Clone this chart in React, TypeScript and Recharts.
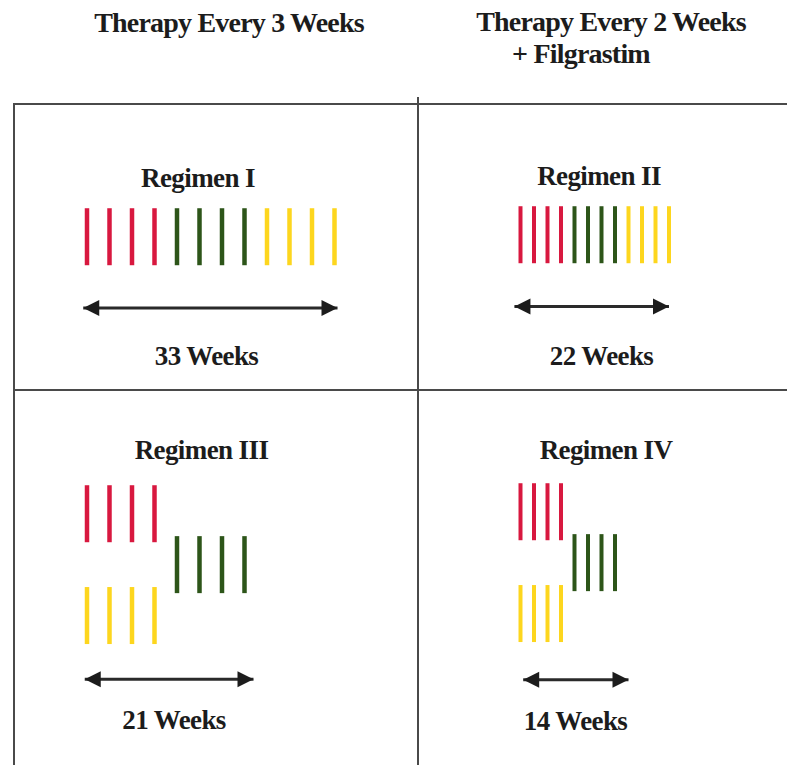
import React from 'react'
import { ScatterChart, Scatter, XAxis, YAxis } from 'recharts'

// doses per regimen: week of each dose, lane 0 = top row, 1 = middle, 2 = bottom
const regimen1Red = [0, 3, 6, 9]
const regimen1Green = [12, 15, 18, 21]
const regimen1Yellow = [24, 27, 30, 33]

const regimen2Red = [0, 2, 4, 6]
const regimen2Green = [8, 10, 12, 14]
const regimen2Yellow = [16, 18, 20, 22]

const regimen3Red = [0, 3, 6, 9]
const regimen3Green = [12, 15, 18, 21]
const regimen3Yellow = [0, 3, 6, 9]

const regimen4Red = [0, 2, 4, 6]
const regimen4Green = [8, 10, 12, 14]
const regimen4Yellow = [0, 2, 4, 6]

// arrow span in weeks [start, end] and lane it sits on
const arrowSpans = [
  [-0.5, 33.4],
  [-0.9, 22.0],
  [-0.3, 22.2],
  [0.4, 16.0],
]
const arrowLanes = [1.4, 1.41, 3.25, 3.3]

const regimenTitles = ['Regimen I', 'Regimen II', 'Regimen III', 'Regimen IV']
const durationLabels = ['33 Weeks', '22 Weeks', '21 Weeks', '14 Weeks']
const columnHeaders = ['Therapy Every 3 Weeks', 'Therapy Every 2 Weeks', '+ Filgrastim']

const RED = '#d8183f'
const GREEN = '#2d5519'
const YELLOW = '#fdd61e'
const INK = '#1c1c1c'
const FONT = "'Liberation Serif', 'Times New Roman', Times, serif"

const toPoints = (weeks: number[], lane: number) => weeks.map((week) => ({ week, lane }))

const doseShape = (color: string, width: number) => (props: any) => {
  const { cx, cy } = props
  return <line x1={cx} x2={cx} y1={cy - 28.5} y2={cy + 28.5} stroke={color} strokeWidth={width} />
}

const arrowHead = (props: any) => {
  const { cx, cy, payload } = props
  const d = payload.dir === 'right' ? -1 : 1
  const pts = `${cx},${cy} ${cx + d * 16},${cy - 8} ${cx + d * 16},${cy + 8}`
  return <polygon points={pts} fill={INK} />
}

interface PanelProps {
  left: number
  top: number
  width: number
  xDomain: [number, number]
  red: { week: number; lane: number }[]
  green: { week: number; lane: number }[]
  yellow: { week: number; lane: number }[]
  arrow: number[]
  arrowLane: number
  strokeW: number
}

function Panel({ left, top, width, xDomain, red, green, yellow, arrow, arrowLane, strokeW }: PanelProps) {
  const arrowData = [
    { week: arrow[0], lane: arrowLane, dir: 'left' },
    { week: arrow[1], lane: arrowLane, dir: 'right' },
  ]
  return (
    <div style={{ position: 'absolute', left, top }}>
      <ScatterChart width={width} height={224} margin={{ top: 0, right: 0, left: 0, bottom: 0 }}>
        <XAxis type="number" dataKey="week" domain={xDomain} hide />
        <YAxis type="number" dataKey="lane" domain={[-0.8, 3.6]} reversed hide />
        <Scatter data={red} shape={doseShape(RED, strokeW)} isAnimationActive={false} />
        <Scatter data={green} shape={doseShape(GREEN, strokeW)} isAnimationActive={false} />
        <Scatter data={yellow} shape={doseShape(YELLOW, strokeW)} isAnimationActive={false} />
        <Scatter
          data={arrowData}
          shape={arrowHead}
          line={{ stroke: '#2a2a2a', strokeWidth: 3 }}
          isAnimationActive={false}
        />
      </ScatterChart>
    </div>
  )
}

const headStyle: React.CSSProperties = { fontFamily: FONT, fontWeight: 700, fontSize: 28, letterSpacing: -0.8, fill: INK }
const labelStyle: React.CSSProperties = { fontFamily: FONT, fontWeight: 700, fontSize: 27, letterSpacing: -0.6, fill: INK }

export default function App() {
  return (
    <div style={{ position: 'absolute', left: 0, top: 0, width: 787, height: 765, background: '#fff', overflow: 'hidden' }}>
      {/* box grid */}
      <div style={{ position: 'absolute', left: 13, top: 103, width: 774, height: 2, background: '#4a4a4a' }} />
      <div style={{ position: 'absolute', left: 13, top: 103, width: 2, height: 662, background: '#4a4a4a' }} />
      <div style={{ position: 'absolute', left: 417, top: 97, width: 2, height: 668, background: '#4a4a4a' }} />
      <div style={{ position: 'absolute', left: 13, top: 389, width: 774, height: 2, background: '#4a4a4a' }} />

      <Panel left={71.5} top={196} width={285} xDomain={[-2, 36]}
        red={toPoints(regimen1Red, 0)} green={toPoints(regimen1Green, 0)} yellow={toPoints(regimen1Yellow, 0)}
        arrow={arrowSpans[0]} arrowLane={arrowLanes[0]} strokeW={4.5} />
      <Panel left={506.5} top={194} width={189} xDomain={[-2, 26]}
        red={toPoints(regimen2Red, 0)} green={toPoints(regimen2Green, 0)} yellow={toPoints(regimen2Yellow, 0)}
        arrow={arrowSpans[1]} arrowLane={arrowLanes[1]} strokeW={4} />
      <Panel left={71.5} top={472.5} width={285} xDomain={[-2, 36]}
        red={toPoints(regimen3Red, 0)} green={toPoints(regimen3Green, 1)} yellow={toPoints(regimen3Yellow, 2)}
        arrow={arrowSpans[2]} arrowLane={arrowLanes[2]} strokeW={4.5} />
      <Panel left={506.5} top={471} width={189} xDomain={[-2, 26]}
        red={toPoints(regimen4Red, 0)} green={toPoints(regimen4Green, 1)} yellow={toPoints(regimen4Yellow, 2)}
        arrow={arrowSpans[3]} arrowLane={arrowLanes[3]} strokeW={4} />

      <svg width={787} height={765} style={{ position: 'absolute', left: 0, top: 0, pointerEvents: 'none' }}>
        <text x={229} y={32} textAnchor="middle" style={headStyle}>{columnHeaders[0]}</text>
        <text x={611} y={31} textAnchor="middle" style={headStyle}>{columnHeaders[1]}</text>
        <text x={581} y={63} textAnchor="middle" style={headStyle}>{columnHeaders[2]}</text>

        <text x={198} y={187} textAnchor="middle" style={labelStyle}>{regimenTitles[0]}</text>
        <text x={599} y={185} textAnchor="middle" style={labelStyle}>{regimenTitles[1]}</text>
        <text x={201.5} y={459} textAnchor="middle" style={labelStyle}>{regimenTitles[2]}</text>
        <text x={606} y={459} textAnchor="middle" style={labelStyle}>{regimenTitles[3]}</text>
        <text x={206.5} y={365} textAnchor="middle" style={labelStyle}>{durationLabels[0]}</text>
        <text x={601.5} y={365} textAnchor="middle" style={labelStyle}>{durationLabels[1]}</text>
        <text x={174} y={729} textAnchor="middle" style={labelStyle}>{durationLabels[2]}</text>
        <text x={575.5} y={730} textAnchor="middle" style={labelStyle}>{durationLabels[3]}</text>
      </svg>
    </div>
  )
}
